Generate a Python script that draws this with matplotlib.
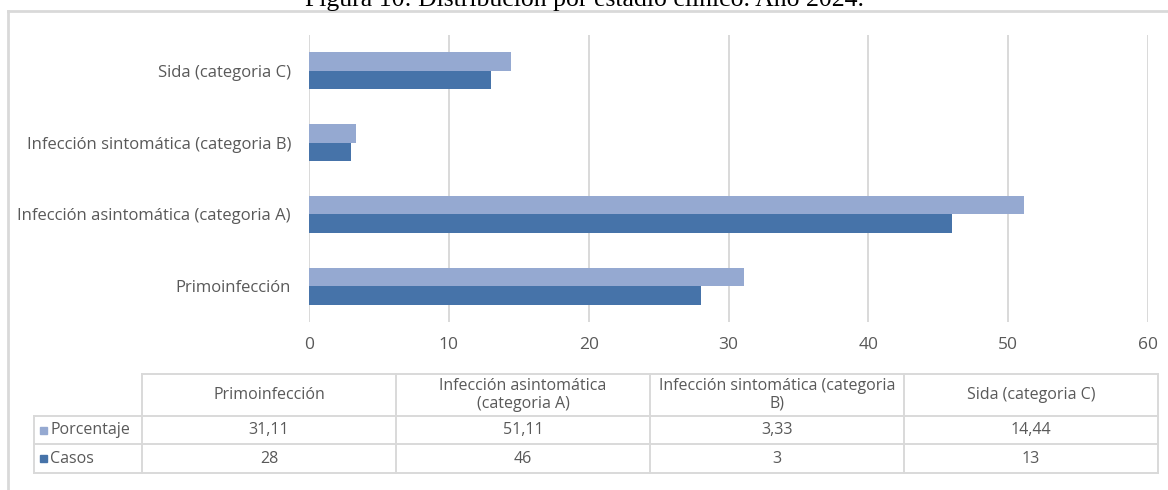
import matplotlib.pyplot as plt
from matplotlib.lines import Line2D
from matplotlib.patches import Rectangle

# data
categories = ["Primoinfección", "Infección asintomática (categoria A)",
              "Infección sintomática (categoria B)", "Sida (categoria C)"]
header_labels = ["Primoinfección", "Infección asintomática\n(categoria A)",
                 "Infección sintomática (categoria\nB)", "Sida (categoria C)"]
porcentaje = [31.11, 51.11, 3.33, 14.44]
casos = [28, 46, 3, 13]
xticks = [0, 10, 20, 30, 40, 50, 60]

light = "#95A9D1"
dark = "#4673A9"
grey_txt = "#595959"
grid_c = "#D9D9D9"

W, H = 1168, 490
fig = plt.figure(figsize=(W / 100, H / 100), dpi=100)
plt.rcParams['font.family'] = ['Open Sans', 'DejaVu Sans']

# main axes (pixel layout)
left, right, top, bottom = 309, 1148, 35, 322
ax = fig.add_axes([left / W, 1 - bottom / H, (right - left) / W, (bottom - top) / H])

h = 0.257
ypos = list(range(len(categories)))
ax.barh([y + h / 2 for y in ypos], porcentaje, height=h, color=light, zorder=3)
ax.barh([y - h / 2 for y in ypos], casos, height=h, color=dark, zorder=3)

ax.set_xlim(0, 60)
ax.set_ylim(-0.5, 3.5)
ax.set_xticks(xticks)
ax.set_xticklabels([str(t) for t in xticks], fontsize=12.5, color=grey_txt)
ax.set_yticks(ypos)
ax.set_yticklabels(categories, fontsize=12, color=grey_txt)
ax.tick_params(length=0)
ax.tick_params(axis='x', pad=11)
ax.tick_params(axis='y', pad=13)
ax.grid(axis='x', color=grid_c, linewidth=1.4, zorder=0)
for s in ax.spines.values():
    s.set_visible(False)

# overlay in pixel coordinates for the table, frame and title
ov = fig.add_axes([0, 0, 1, 1], zorder=-1)
ov.set_xlim(0, W)
ov.set_ylim(H, 0)
ov.axis('off')

# outer frame
ov.add_line(Line2D([8, 8], [11, H + 5], color=grid_c, linewidth=2))
ov.add_line(Line2D([8, W + 5], [11, 11], color=grid_c, linewidth=2))

# title (partly cut at the top, as in the source page)
fig.text(0.5005, 1 - 6 / H, "Figura 10: Distribución por estadio clínico. Año 2024.",
         ha='center', va='baseline', fontsize=18.5, family='Liberation Serif', color='black')

# table
col_x = [142, 396, 650, 904, 1158]
leg_left = 34
row_y = [374, 416, 444, 473]
lw = 1.4
ov.add_line(Line2D([col_x[0], col_x[-1]], [row_y[0], row_y[0]], color=grid_c, lw=lw))
for y in row_y[1:]:
    ov.add_line(Line2D([leg_left, col_x[-1]], [y, y], color=grid_c, lw=lw))
ov.add_line(Line2D([leg_left, leg_left], [row_y[1], row_y[3]], color=grid_c, lw=lw))
for x in col_x:
    ov.add_line(Line2D([x, x], [row_y[0], row_y[3]], color=grid_c, lw=lw))

fs = 11.5
for i, lab in enumerate(header_labels):
    cx = (col_x[i] + col_x[i + 1]) / 2
    ov.text(cx, (row_y[0] + row_y[1]) / 2, lab, ha='center', va='center',
            fontsize=fs, color=grey_txt, linespacing=1.15)
    ov.text(cx, (row_y[1] + row_y[2]) / 2, f"{porcentaje[i]:.2f}".replace('.', ','),
            ha='center', va='center', fontsize=fs, color=grey_txt)
    ov.text(cx, (row_y[2] + row_y[3]) / 2, str(casos[i]),
            ha='center', va='center', fontsize=fs, color=grey_txt)

for name, col, (y0, y1) in [("Porcentaje", light, (row_y[1], row_y[2])),
                            ("Casos", dark, (row_y[2], row_y[3]))]:
    yc = (y0 + y1) / 2
    ov.add_patch(Rectangle((40, yc - 3.5), 7, 7, color=col))
    ov.text(50, yc, name, ha='left', va='center', fontsize=fs, color=grey_txt)

fig.savefig("out.png", dpi=100)
